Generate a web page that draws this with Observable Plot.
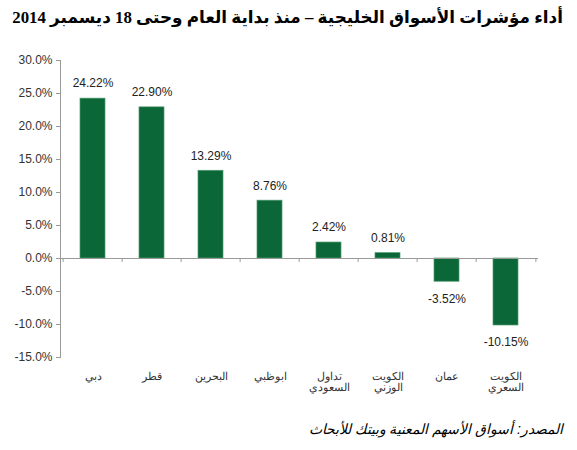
<!DOCTYPE html>
<html><head><meta charset="utf-8">
<script src="https://cdn.jsdelivr.net/npm/d3@7"></script>
<script src="https://cdn.jsdelivr.net/npm/@observablehq/plot@0.6"></script>
<style>
html,body{margin:0;padding:0;background:#fff;}
#wrap{width:577px;height:450px;position:relative;}
#title{height:38px;line-height:36px;direction:rtl;text-align:right;padding-right:14px;font-family:"Times New Roman","Liberation Serif","DejaVu Sans",serif;font-weight:bold;font-size:17px;color:#000;white-space:nowrap;}
#title span{display:inline-block;}
#caption{direction:rtl;text-align:right;padding-right:14px;font-family:"Liberation Sans",Arial,"DejaVu Sans",sans-serif;font-style:italic;font-size:14px;color:#000;margin-top:11px;}
svg{display:block;}
</style></head>
<body><div id="wrap">
<div id="title"><span id="tspan">أداء مؤشرات الأسواق الخليجية – منذ بداية العام وحتى 18 ديسمبر 2014</span></div>
<div id="chart"></div>
<div id="caption">المصدر: أسواق الأسهم المعنية وبيتك للأبحاث</div>
</div>
<script>
const categories = ["دبي","قطر","البحرين","ابوظبي","تداول\nالسعودي","الكويت\nالوزني","عمان","الكويت\nالسعري"];
const values = [24.22, 22.90, 13.29, 8.76, 2.42, 0.81, -3.52, -10.15];
const yTicks = [-15, -10, -5, 0, 5, 10, 15, 20, 25, 30];

const data = categories.map((c, i) => ({cat: c, v: values[i]}));
const step = (577 - 60 - 39) / categories.length;

const chart = Plot.plot({
  width: 577,
  height: 372,
  marginTop: 22,
  marginBottom: 53,
  marginLeft: 60,
  marginRight: 39,
  style: {fontFamily: "'Liberation Sans', Arial, sans-serif", background: "#fff"},
  x: {domain: categories, paddingInner: 0.58, paddingOuter: 0.29},
  y: {domain: [-15, 30]},
  marks: [
    Plot.barY(data, {x: "cat", y: "v", fill: "#0b6638", stroke: "#4f9a6c", strokeWidth: 0.7}),
    Plot.frame({anchor: "left", stroke: "#999"}),
    Plot.ruleY([0], {stroke: "#999"}),
    Plot.ruleX(categories, {x: d => d, y1: 0, y2: -0.6, dx: -step / 2, stroke: "#999"}),
    Plot.ruleX([categories[categories.length - 1]], {x: d => d, y1: 0, y2: -0.6, dx: step / 2, stroke: "#999"}),
    Plot.axisY({ticks: yTicks, tickSize: 4, tickPadding: 4, tickFormat: d => d.toFixed(1) + "%", fontSize: 12, color: "#333", stroke: "#999", label: null}),
    Plot.axisX({tickSize: 0, tickPadding: 15, fontSize: 11, color: "#333", label: null}),
    Plot.text(data.filter(d => d.v >= 0), {x: "cat", y: "v", text: d => d.v.toFixed(2) + "%", dy: -15, fontSize: 12, fill: "#222"}),
    Plot.text(data.filter(d => d.v < 0), {x: "cat", y: "v", text: d => d.v.toFixed(2) + "%", dy: 17, fontSize: 12, fill: "#222"})
  ]
});
document.getElementById("chart").appendChild(chart);

// fit title to the reference width (about 551px)
const ts = document.getElementById("tspan");
const w = ts.getBoundingClientRect().width;
if (w > 0) ts.parentNode.style.fontSize = (17 * 551 / w).toFixed(2) + "px";
</script>
</body></html>
